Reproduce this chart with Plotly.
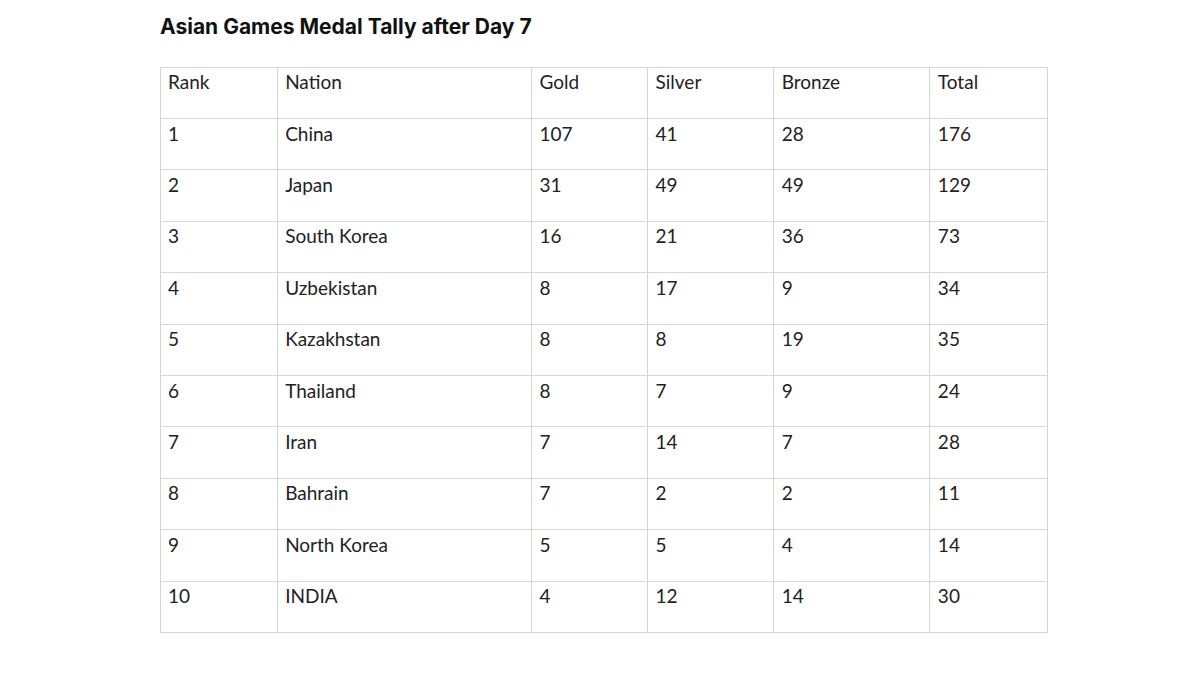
import plotly.graph_objects as go

headers = ["Rank", "Nation", "Gold", "Silver", "Bronze", "Total"]
rank = ["1", "2", "3", "4", "5", "6", "7", "8", "9", "10"]
nation = ["China", "Japan", "South Korea", "Uzbekistan", "Kazakhstan", "Thailand",
          "Iran", "Bahrain", "North Korea", "INDIA"]
gold = ["107", "31", "16", "8", "8", "8", "7", "7", "5", "4"]
silver = ["41", "49", "21", "17", "8", "7", "14", "2", "5", "12"]
bronze = ["28", "49", "36", "9", "19", "9", "7", "2", "4", "14"]
total = ["176", "129", "73", "34", "35", "24", "28", "11", "14", "30"]

W, H = 1200, 675
OFF = 8
font = dict(family="Lato, Inter, sans-serif", size=19, color="#222222")
fig = go.Figure(go.Table(
    domain=dict(x=[(160 - OFF) / W, (1048 - OFF) / W], y=[(H - 640) / H, (H - 67 + OFF) / H]),
    columnwidth=[117, 254, 116, 126, 156, 118],
    header=dict(values=headers, align="left", height=51.4, font=font,
                fill_color="white", line_color="#d6d6d6", line_width=1),
    cells=dict(values=[rank, nation, gold, silver, bronze, total], align="left",
               height=51.4, font=font, fill_color="white",
               line_color="#d6d6d6", line_width=1),
))
fig.update_layout(
    width=W, height=H, margin=dict(l=0, r=0, t=0, b=0),
    paper_bgcolor="white",
    title=dict(text="<b>Asian Games Medal Tally after Day 7</b>", x=(160 - OFF) / W, xanchor="left",
               y=1 - (27 - OFF) / H, yanchor="middle",
               font=dict(family="Inter, Lato, sans-serif", size=21, color="#111111")),
)
fig.write_html("out.html")
